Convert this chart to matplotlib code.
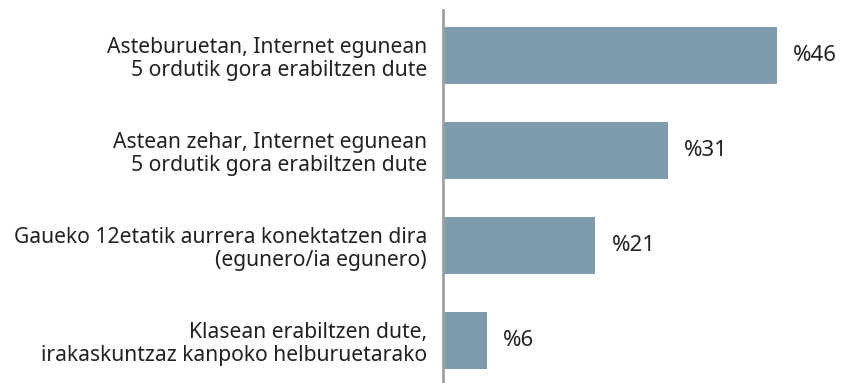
import matplotlib
matplotlib.use("Agg")
import matplotlib.pyplot as plt

categories = [
    "Asteburuetan, Internet egunean\n5 ordutik gora erabiltzen dute",
    "Astean zehar, Internet egunean\n5 ordutik gora erabiltzen dute",
    "Gaueko 12etatik aurrera konektatzen dira\n(egunero/ia egunero)",
    "Klasean erabiltzen dute,\nirakaskuntzaz kanpoko helburuetarako",
]
values = [46, 31, 21, 6]
value_labels = ["%46", "%31", "%21", "%6"]

plt.rcParams["font.family"] = ["Noto Sans", "DejaVu Sans"]

W, H = 841, 383
fig = plt.figure(figsize=(W / 100, H / 100), dpi=100)
ax = fig.add_axes([443 / W, 0, 1 - 443 / W, (H - 10) / H])

bar_color = "#7f9cae"
text_color = "#222222"
ypos = list(range(len(values)))
ax.barh(ypos, values, height=0.6, color=bar_color)

ax.set_xlim(0, (W - 443) / 7.261)
ax.set_ylim(3.447, -0.479)

for y, v, lab in zip(ypos, values, value_labels):
    ax.annotate(lab, (v, y), xytext=(11.5, 0), textcoords="offset points",
                ha="left", va="center", fontsize=16, color=text_color)

ax.set_yticks(ypos)
ax.set_yticklabels(categories, fontsize=15.2, color=text_color,
                   linespacing=1.13, ha="right")
ax.tick_params(axis="y", length=0, pad=11.5)
ax.set_xticks([])

for s in ["top", "right", "bottom"]:
    ax.spines[s].set_visible(False)
ax.spines["left"].set_color("#a0a0a0")
ax.spines["left"].set_linewidth(2)

fig.savefig("out.png", dpi=100)
